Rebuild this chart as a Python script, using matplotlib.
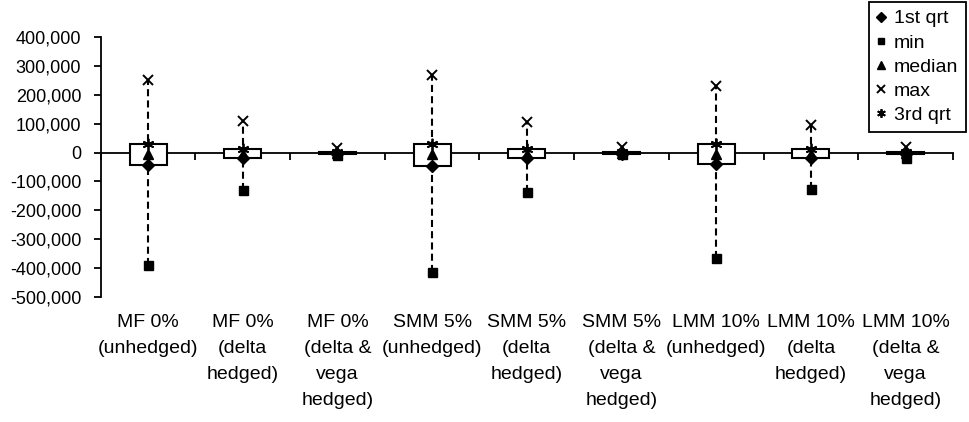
import matplotlib
matplotlib.use("Agg")
import matplotlib.pyplot as plt
from matplotlib.ticker import FuncFormatter
from matplotlib.patches import Rectangle
from matplotlib.transforms import blended_transform_factory, offset_copy

plt.rcParams['font.family'] = ['Liberation Sans', 'DejaVu Sans']

categories = ["MF 0%\n(unhedged)", "MF 0%\n(delta\nhedged)", "MF 0%\n(delta &\nvega\nhedged)",
              "SMM 5%\n(unhedged)", "SMM 5%\n(delta\nhedged)", "SMM 5%\n(delta &\nvega\nhedged)",
              "LMM 10%\n(unhedged)", "LMM 10%\n(delta\nhedged)", "LMM 10%\n(delta &\nvega\nhedged)"]
q1_vals = [-42000, -18000, -5000, -45000, -18000, -4000, -38000, -18000, -5000]
min_vals = [-390000, -131000, -8000, -413000, -137000, -6000, -365000, -127000, -20000]
median_vals = [-5000, -5000, -3000, -5000, -5000, -2000, -5000, -5000, -3000]
max_vals = [250000, 110000, 15000, 270000, 105000, 18000, 232000, 97000, 20000]
q3_vals = [30000, 12000, 3000, 28000, 12000, 3000, 30000, 12000, 3000]
yticks = [-500000, -400000, -300000, -200000, -100000, 0, 100000, 200000, 300000, 400000]

fig = plt.figure(figsize=(9.69, 4.22), dpi=100)
ax = fig.add_axes([100.7 / 969, 1 - 297 / 422, (953 - 100.7) / 969, 260 / 422])

n = len(categories)
xs = [i + 0.5 for i in range(n)]

for i, x in enumerate(xs):
    ax.plot([x, x], [min_vals[i], max_vals[i]], color='black', lw=1.5,
            linestyle=(0, (3.4, 2.0)), zorder=2)
    ax.add_patch(Rectangle((x - 0.195, q1_vals[i]), 0.39, q3_vals[i] - q1_vals[i],
                           facecolor='white', edgecolor='black', lw=1.5, zorder=3))

ms = 7.2
ax.plot(xs, q1_vals, linestyle='none', marker='D', color='black', ms=ms * 0.85, label='1st qrt', zorder=5)
ax.plot(xs, min_vals, linestyle='none', marker='s', color='black', ms=ms * 0.9, label='min', zorder=5)
ax.plot(xs, median_vals, linestyle='none', marker='^', color='black', ms=ms, label='median', zorder=5)
ax.plot(xs, max_vals, linestyle='none', marker='x', color='black', ms=ms * 1.05, mew=1.4, label='max', zorder=5)
ax.plot(xs, q3_vals, linestyle='none', marker=(6, 2, 0), color='black', ms=ms * 1.15, mew=1.3, label='3rd qrt', zorder=5)

ax.set_xlim(0, n)
ax.set_ylim(-500000, 400000)
ax.set_yticks(yticks)
ax.yaxis.set_major_formatter(FuncFormatter(lambda v, p: f"{int(v):,}"))
ax.tick_params(axis='y', direction='out', length=5, width=1.3, labelsize=13, pad=9)
ax.set_xticks(range(n + 1))
ax.set_xticklabels([])
ax.tick_params(axis='x', direction='out', length=5, width=1.3)
ax.spines['bottom'].set_position(('data', 0))
ax.spines['bottom'].set_linewidth(1.3)
ax.spines['left'].set_linewidth(1.3)
ax.spines['top'].set_visible(False)
ax.spines['right'].set_visible(False)

trans = blended_transform_factory(ax.transData, ax.transAxes)
trans = offset_copy(trans, fig=fig, x=0, y=-17, units='dots')
for x, lab in zip(xs, categories):
    ax.text(x, 0, lab, transform=trans, ha='center', va='top', fontsize=14,
            linespacing=1.68, clip_on=False)

leg = fig.legend(loc='upper right', bbox_to_anchor=(966 / 969, 1 - 2 / 422), fontsize=14,
                 frameon=True, fancybox=False, edgecolor='black', framealpha=1,
                 handlelength=0.5, handletextpad=0.4, borderpad=0.4, labelspacing=0.34,
                 borderaxespad=0, markerscale=0.75)
leg.get_frame().set_linewidth(1.3)

fig.savefig("out.png", dpi=100)
